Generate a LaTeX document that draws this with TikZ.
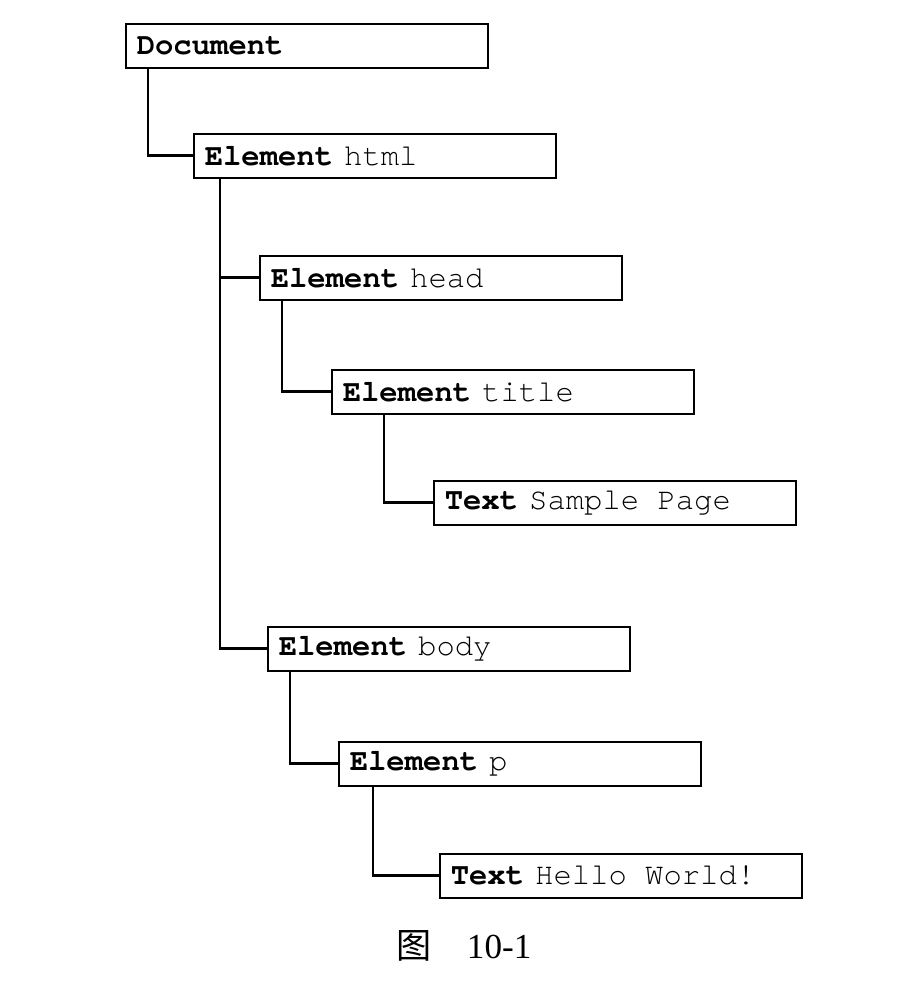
\documentclass[tikz,border=0pt]{standalone}
\usepackage{fontspec}
\setmainfont{Liberation Serif}
\setmonofont{texgyrecursor}[Extension=.otf,UprightFont=*-regular,BoldFont=*-bold]
\newfontfamily\cjk{Noto Sans CJK SC}
\usetikzlibrary{calc}
\def\pxLen{0.02}
\def\boxFont{\fontsize{17.4pt}{20pt}\selectfont\ttfamily}
\def\capFont{\fontsize{20pt}{24pt}\selectfont}
\def\lineThickness{(1.5pt)}
\def\boxThickness{(0.9pt)}
\tikzset{nodebox/.style={draw=black,line width=\boxThickness,anchor=north west,inner xsep=0.22cm,inner ysep=0,text width=6.8cm,align=left,minimum height=0.88cm,font=\boxFont}}
\tikzset{link/.style={black,line width=\lineThickness,line cap=rect}}
\newcommand{\kind}[2]{\textbf{#1}\hspace{0.36em}#2}
\newcommand{\branch}[3]{\draw[link] ($(#1.south west)+(#3,0)$) |- (#2.west);}
\begin{document}
\begin{tikzpicture}[x=\pxLen cm,y=-\pxLen cm]\useasboundingbox (0,0) rectangle (908,986);
\node[nodebox] (doc) at (125,23) {\textbf{Document}};
\node[nodebox] (html) at (193,133) {\kind{Element}{html}};
\node[nodebox] (head) at (259,255) {\kind{Element}{head}};
\node[nodebox] (title) at (331,369) {\kind{Element}{title}};
\node[nodebox] (txtS) at (433,480) {\kind{Text}{Sample\hspace{0.6em}Page}};
\node[nodebox] (body) at (267,626) {\kind{Element}{body}};
\node[nodebox] (para) at (338,741) {\kind{Element}{p}};
\node[nodebox] (txtH) at (439,853) {\kind{Text}{Hello\hspace{0.6em}World!}};
\branch{doc}{html}{23}
\branch{html}{head}{27}
\branch{html}{body}{27}
\branch{head}{title}{23}
\branch{title}{txtS}{53}
\branch{body}{para}{23}
\branch{para}{txtH}{35}
\node[font=\capFont] (cap) at (464,946) {{\cjk 图}\quad 10-1};
\end{tikzpicture}
\end{document}
